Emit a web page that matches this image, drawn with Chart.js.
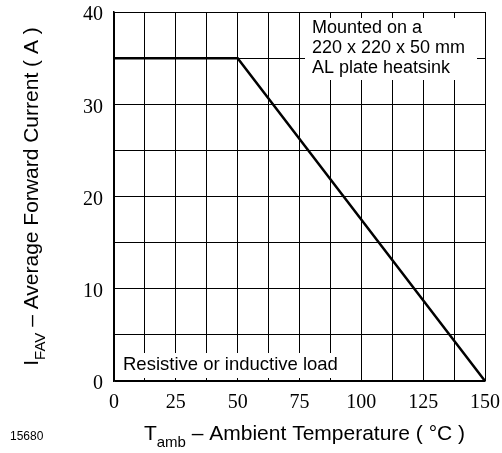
<!DOCTYPE html>
<html lang="en">

<head>
  <meta charset="UTF-8">
  <script src="https://cdn.jsdelivr.net/npm/chart.js@4.4.1/dist/chart.umd.min.js"></script>
  <title>Forward Current Derating</title>
  <style>
    body { margin: 0; background: #fff; }
  </style>
</head>

<body>
  <canvas id="myChart" width="502" height="453"></canvas>
  <script>
    // derating curve
    const tempC = [0, 50, 150]
    const currentA = [35, 35, 0]
    const xTickLabels = [0, 25, 50, 75, 100, 125, 150]
    const yTickLabels = [0, 10, 20, 30, 40]
    const heatsinkNote = ['Mounted on a', '220 x 220 x 50 mm', 'AL plate heatsink']
    const loadNote = 'Resistive or inductive load'
    const figureNo = '15680'

    const SANS = '"Liberation Sans", Arial, sans-serif'
    const SERIF = '"Liberation Serif", "Times New Roman", serif'

    // draws a title with a subscript part
    function subTitle(ctx, parts, x, y, align) {
      const big = '21px ' + SANS
      const small = '15px ' + SANS
      let w = 0
      parts.forEach(p => {
        ctx.font = p.sub ? small : big
        w += ctx.measureText(p.t).width
      })
      let cx = align === 'center' ? x - w / 2 : x
      ctx.textAlign = 'left'
      ctx.textBaseline = 'alphabetic'
      parts.forEach(p => {
        ctx.font = p.sub ? small : big
        ctx.fillText(p.t, cx, p.sub ? y + 7 : y)
        cx += ctx.measureText(p.t).width
      })
    }

    const notes = {
      id: 'notes',
      beforeDatasetsDraw: (chart) => {
        const ctx = chart.ctx
        const a = chart.chartArea
        ctx.save()
        ctx.fillStyle = '#fff'
        ctx.fillRect(305, a.top + 6, a.right - 8 - 305, 62)
        ctx.fillRect(a.left + 1, a.bottom - 28, 230, 25)
        ctx.fillStyle = '#000'
        ctx.font = '18px ' + SANS
        ctx.textAlign = 'left'
        ctx.textBaseline = 'middle'
        heatsinkNote.forEach((s, i) => ctx.fillText(s, 312, a.top + 16 + i * 20))
        ctx.font = '18.5px ' + SANS
        ctx.fillText(loadNote, a.left + 9, a.bottom - 16)
        ctx.restore()
      },
      afterDraw: (chart) => {
        const ctx = chart.ctx
        const a = chart.chartArea
        ctx.save()
        ctx.fillStyle = '#000'
        subTitle(ctx, [{ t: 'T' }, { t: 'amb', sub: true }, { t: ' \u2013 Ambient Temperature ( \u00b0C )' }],
          (a.left + a.right) / 2 + 5, 440, 'center')
        ctx.translate(38, (a.top + a.bottom) / 2)
        ctx.rotate(-Math.PI / 2)
        subTitle(ctx, [{ t: 'I' }, { t: 'FAV', sub: true }, { t: ' \u2013 Average Forward Current ( A )' }],
          0, 0, 'center')
        ctx.restore()
        ctx.save()
        ctx.font = '12px ' + SANS
        ctx.textBaseline = 'middle'
        ctx.fillText(figureNo, 10, 437)
        ctx.restore()
      }
    }

    const ctx = document.getElementById('myChart')
    const myChart = new Chart(ctx, {
      type: 'line',
      data: {
        datasets: [
          {
            data: tempC.map((t, i) => ({ x: t, y: currentA[i] })),
            borderColor: '#000',
            borderWidth: 2.5,
            pointRadius: 0,
            tension: 0,
            clip: false
          }
        ]
      },
      plugins: [notes],
      options: {
        responsive: false,
        animation: false,
        layout: { padding: { left: 0, right: 17, top: 12, bottom: 0 } },
        plugins: { legend: { display: false }, tooltip: { enabled: false } },
        scales: {
          x: {
            type: 'linear',
            min: 0,
            max: 150,
            afterFit: (s) => {
              s.height = 72
              s.paddingLeft = 0
              s.paddingRight = 0
            },
            grid: { color: '#000', lineWidth: 1, drawTicks: false },
            border: { color: '#000', width: 1.5 },
            ticks: {
              stepSize: 12.5,
              autoSkip: false,
              maxRotation: 0,
              padding: 10,
              color: '#000',
              font: { size: 20, family: SERIF },
              callback: (v) => xTickLabels.includes(v) ? String(v) : ''
            }
          },
          y: {
            min: 0,
            max: 40,
            afterFit: (s) => {
              s.width = 114
              s.paddingTop = 0
              s.paddingBottom = 0
            },
            grid: { color: '#000', lineWidth: 1, drawTicks: false },
            border: { color: '#000', width: 1.5 },
            ticks: {
              stepSize: 5,
              autoSkip: false,
              padding: 11,
              labelOffset: 3,
              color: '#000',
              font: { size: 20, family: SERIF },
              callback: (v) => yTickLabels.includes(v) ? String(v) : ''
            }
          }
        }
      }
    })
  </script>
</body>

</html>
